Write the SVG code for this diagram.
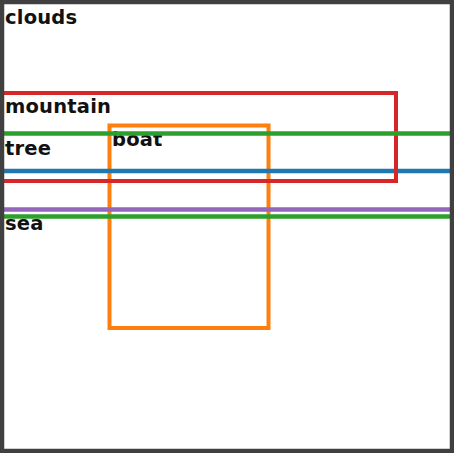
<svg xmlns="http://www.w3.org/2000/svg" width="454" height="453" viewBox="0 0 454 453">
<style>
.lbl{font-family:"DejaVu Sans",sans-serif;font-weight:bold;font-size:19.5px;letter-spacing:0.2px;fill:#111111}
.box{fill:none;stroke-width:4}
.ln{stroke-width:4.5}
</style>
<rect x="0" y="0" width="454" height="453" fill="#ffffff"/>
<g id="connectors"></g>
<g id="clouds"><text class="lbl" x="5" y="24">clouds</text></g>
<g id="orangebox"><rect class="box" x="109.5" y="125.5" width="159" height="202.5" stroke="#ff7f0e"/></g>
<g id="boat"><text class="lbl" x="112" y="146">boat</text></g>
<g id="blue"><line class="ln" x1="0" y1="171" x2="454" y2="171" stroke="#1f77b4"/></g>
<g id="mountain"><rect class="box" x="0" y="93" width="396" height="88" stroke="#d62728"/><text class="lbl" x="5" y="113">mountain</text></g>
<g id="tree"><line class="ln" x1="0" y1="133.5" x2="454" y2="133.5" stroke="#2ca02c"/><text class="lbl" x="5" y="155">tree</text></g>
<g id="purple"><line class="ln" x1="0" y1="209.5" x2="454" y2="209.5" stroke="#9467bd"/></g>
<g id="sea"><line class="ln" x1="0" y1="216.5" x2="454" y2="216.5" stroke="#2ca02c"/><text class="lbl" x="5" y="230">sea</text></g>
<g id="frame"><rect x="2" y="2" width="450" height="449" fill="none" stroke="#404040" stroke-width="4.5"/></g>
</svg>
